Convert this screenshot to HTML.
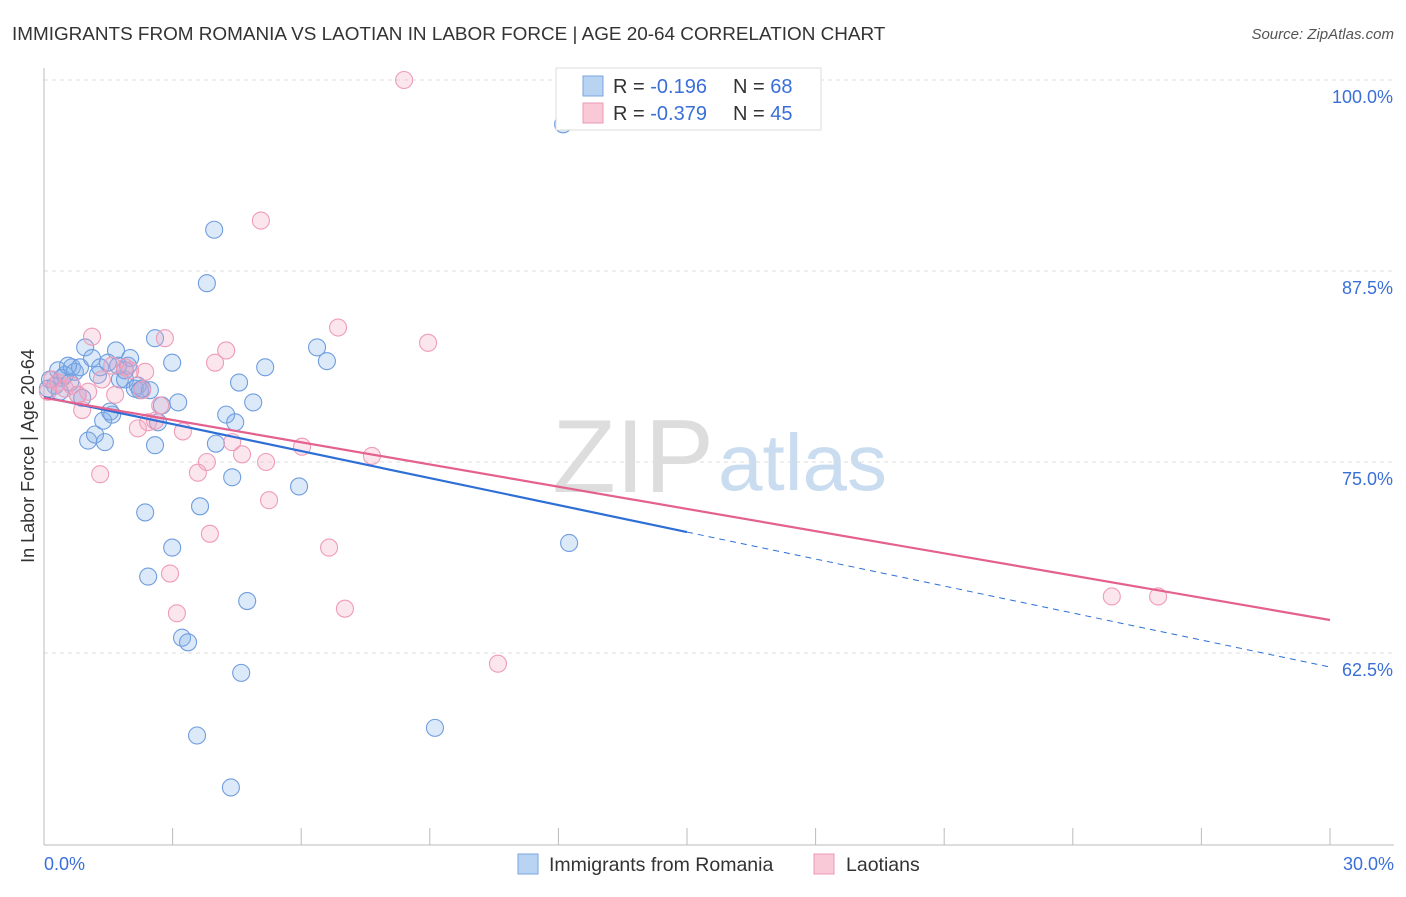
<!DOCTYPE html>
<html><head><meta charset="utf-8"><style>
body{margin:0;background:#fff;font-family:"Liberation Sans",sans-serif;}
svg text{font-family:"Liberation Sans",sans-serif;}
</style></head><body>
<svg id="chart" width="1406" height="892" xmlns="http://www.w3.org/2000/svg">
<text x="12" y="40" font-size="18.9" fill="#333">IMMIGRANTS FROM ROMANIA VS LAOTIAN IN LABOR FORCE | AGE 20-64 CORRELATION CHART</text>
<text x="1394" y="39" font-size="15" fill="#555" text-anchor="end" font-style="italic">Source: ZipAtlas.com</text>
<text x="714" y="492" font-size="104" fill="#ddd" text-anchor="end" font-family="Liberation Serif">ZIP</text>
<text x="718" y="490" font-size="80" fill="#c9dcf0">atlas</text>
<text transform="translate(34,456) rotate(-90)" font-size="18" fill="#333" text-anchor="middle">In Labor Force | Age 20-64</text>
<g id="grid"></g><g id="axes"></g><g id="pts"></g><g id="trend"></g>
<g>
<rect x="556" y="68" width="265" height="62" fill="#fff" stroke="#ddd"/>
<rect x="583" y="76" width="20" height="20" fill="#b9d3f3" stroke="#7aa5dd"/>
<rect x="583" y="103" width="20" height="20" fill="#f9c9d8" stroke="#eb9ab5"/>
<text x="613" y="93" font-size="20" fill="#333">R = <tspan fill="#3a6fd8"> -0.196</tspan><tspan x="733">N = </tspan><tspan fill="#3a6fd8">68</tspan></text>
<text x="613" y="120" font-size="20" fill="#333">R = <tspan fill="#3a6fd8">-0.379</tspan><tspan x="733">N = </tspan><tspan fill="#3a6fd8">45</tspan></text>
</g>
<g>
<rect x="518" y="854" width="20" height="20" fill="#b9d3f3" stroke="#7aa5dd"/>
<text x="549" y="871" font-size="19.5" fill="#333">Immigrants from Romania</text>
<rect x="814" y="854" width="20" height="20" fill="#f9c9d8" stroke="#eb9ab5"/>
<text x="846" y="871" font-size="19.5" fill="#333">Laotians</text>
</g>
</svg>
<script>
const xTicks=[0,3,6,9,12,15,18,21,24,27,30];
const yTicks=[100,87.5,75,62.5];
const yTickLabels=["100.0%","87.5%","75.0%","62.5%"];
const romaniaX=[0.14,0.26,0.33,0.42,0.49,0.61,0.65,0.72,0.79,0.84,0.96,1.03,1.12,1.19,1.26,1.31,1.38,1.42,1.49,1.59,1.68,1.77,1.89,1.96,2.01,2.12,2.19,2.24,2.36,2.43,2.47,2.59,2.59,2.66,2.75,2.99,2.99,3.13,3.22,3.36,3.57,3.64,3.80,3.97,4.01,4.25,4.39,4.36,4.46,4.55,4.60,4.74,4.88,5.16,5.95,6.37,6.60,9.12,12.11,12.25,0.09,0.37,0.56,0.89,1.54,1.89,2.29,1.73];
const romaniaY=[80.4,80.0,81.0,80.5,80.7,80.2,81.2,80.9,79.4,81.2,82.5,76.4,81.8,76.8,80.7,81.2,77.7,76.3,81.5,78.1,82.3,80.4,80.4,81.3,81.8,79.8,80.0,79.7,71.7,67.5,79.7,76.1,83.1,77.6,78.7,69.4,81.5,78.9,63.5,63.2,57.1,72.1,86.7,90.2,76.2,78.1,74.0,53.7,77.6,80.2,61.2,65.9,78.9,81.2,73.4,82.5,81.6,57.6,97.1,69.7,79.8,79.6,81.3,79.2,78.3,81.0,79.8,81.3];
const laoX=[0.09,0.19,0.33,0.49,0.65,0.79,0.89,1.03,1.12,1.31,1.35,1.59,1.66,1.89,2.01,2.19,2.29,2.36,2.43,2.59,2.71,2.82,2.94,3.10,3.24,3.59,3.80,3.87,3.99,4.25,4.39,4.62,5.06,5.18,5.25,6.02,6.65,6.86,7.02,7.65,8.40,8.96,10.59,24.91,25.99];
const laoY=[79.6,80.4,80.2,79.8,80.0,79.4,78.4,79.6,83.2,74.2,80.4,81.3,79.4,81.2,81.0,77.2,79.7,80.9,77.6,77.7,78.7,83.1,67.7,65.1,77.0,74.3,75.0,70.3,81.5,82.3,76.3,75.5,90.8,75.0,72.5,76.0,69.4,83.8,65.4,75.4,100.0,82.8,61.8,66.2,66.2];
const trendRomania=[79.25,61.58];
const trendLao=[79.2,64.66];
const NS="http://www.w3.org/2000/svg";
const sx=v=>44+v*(1330-44)/30;
const sy=v=>80+(100-v)*15.28;
function mk(tag,attrs,parent){const e=document.createElementNS(NS,tag);for(const k in attrs)e.setAttribute(k,attrs[k]);document.getElementById(parent).appendChild(e);return e;}
yTicks.forEach((t,i)=>{
 const l=mk('line',{x1:44,x2:1394,y1:sy(t),y2:sy(t),stroke:'#ddd','stroke-dasharray':'4,4'},'grid');
 
 
 const tx=mk('text',{x:1393,y:sy(t)+23,'font-size':18,fill:'#3a6fd8','text-anchor':'end'},'grid');
 tx.textContent=yTickLabels[i];
 
 
});
const ax=mk('line',{x1:44,x2:1394,y1:845,y2:845,stroke:'#bbb'},'axes');


const ay=mk('line',{x1:44,x2:44,y1:68,y2:845,stroke:'#bbb'},'axes');


xTicks.forEach(t=>{
 const l=mk('line',{x1:sx(t),x2:sx(t),y1:828,y2:845,stroke:'#bbb'},'axes');
 
 
});
const xl0=mk('text',{x:44,y:870,'font-size':18,fill:'#3a6fd8'},'axes');xl0.textContent=xTicks[0].toFixed(1)+'%';


const xl1=mk('text',{x:1394,y:870,'font-size':18,fill:'#3a6fd8','text-anchor':'end'},'axes');xl1.textContent=xTicks[xTicks.length-1].toFixed(1)+'%';


romaniaX.forEach((x,i)=>{
 const c=mk('circle',{cx:sx(x),cy:sy(romaniaY[i]),r:8.5,fill:'rgba(130,175,235,0.28)',stroke:'#6f9ddf','stroke-width':1.1},'pts');
 
 
});
laoX.forEach((x,i)=>{
 const c=mk('circle',{cx:sx(x),cy:sy(laoY[i]),r:8.5,fill:'rgba(245,165,195,0.28)',stroke:'#ee9cb8','stroke-width':1.1},'pts');
 
 
});
const bAt=x=>trendRomania[0]+(trendRomania[1]-trendRomania[0])*x/30;
const t1=mk('line',{x1:sx(0),y1:sy(bAt(0)),x2:sx(15),y2:sy(bAt(15)),stroke:'#2e6fd6','stroke-width':2.2},'trend');


const t2=mk('line',{x1:sx(15),y1:sy(bAt(15)),x2:sx(30),y2:sy(bAt(30)),stroke:'#2e6fd6','stroke-width':1,'stroke-dasharray':'6,5'},'trend');


const t3=mk('line',{x1:sx(0),y1:sy(trendLao[0]),x2:sx(30),y2:sy(trendLao[1]),stroke:'#e4608e','stroke-width':2.2},'trend');


</script>
</body></html>
